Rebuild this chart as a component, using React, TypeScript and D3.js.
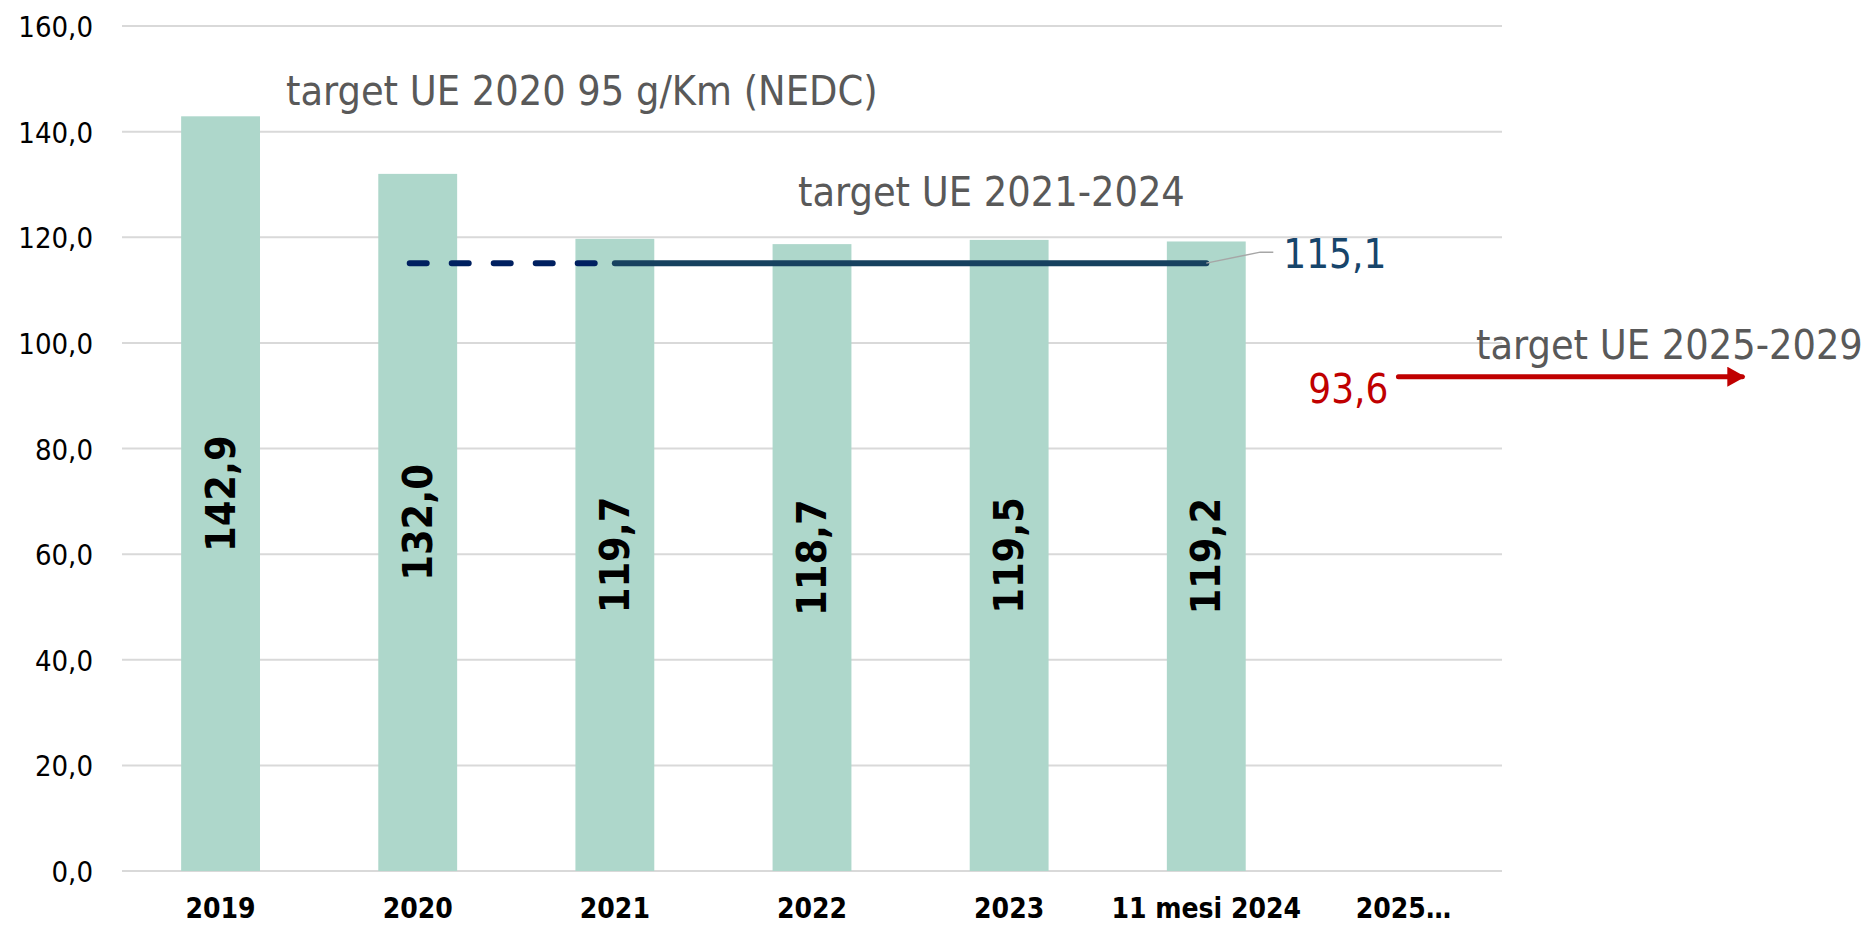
import React from 'react';
import * as d3 from 'd3';

// chart values
const categories = ['2019', '2020', '2021', '2022', '2023', '11 mesi 2024', '2025…'];
const values: (number | null)[] = [142.9, 132.0, 119.7, 118.7, 119.5, 119.2, null];
const yTicks = [0, 20, 40, 60, 80, 100, 120, 140, 160];
const target2124 = 115.1;
const target2529 = 93.6;
const labelTarget2020 = 'target UE 2020 95 g/Km (NEDC)';
const labelTarget2124 = 'target UE 2021-2024';
const labelTarget2529 = 'target UE 2025-2029';

const W = 1870;
const H = 925;
const FONT = "'DejaVu Sans Condensed', 'DejaVu Sans', sans-serif";

const locale = d3.formatLocale({ decimal: ',', thousands: '.', grouping: [3], currency: ['€', ''] });
const fmt = locale.format('.1f');

export default function App() {
  const x = d3.scaleBand<string>()
    .domain(categories)
    .range([122, 1502])
    .paddingInner(0.6)
    .paddingOuter(0.3);
  const y = d3.scaleLinear().domain([0, 160]).range([871, 26]);
  const bw = x.bandwidth();
  const cx = (c: string) => (x(c) as number) + bw / 2;

  // target lines
  const yT1 = y(target2124);
  const dashedStart = cx(categories[1]) - 8;
  const solidStart = cx(categories[2]);
  const solidEnd = cx(categories[5]);
  const yT2 = y(target2529);
  const arrowStart = cx(categories[6]) - 5;
  const arrowEnd = x.range()[1] + x.step() * 1.29;

  const line = d3.line<[number, number]>();

  return (
    <div style={{ position: 'absolute', left: 0, top: 0 }}>
      <svg width={W} height={H} style={{ display: 'block', fontFamily: FONT, fontStretch: 'condensed' }}>
        <defs>
          <marker id="arrowRed" markerWidth="4" markerHeight="4" refX="3" refY="2" orient="auto" markerUnits="strokeWidth">
            <path d="M0,0 L3.6,2 L0,4 Z" fill="#C00000" />
          </marker>
        </defs>

        {/* grid */}
        {yTicks.map(t => (
          <g key={t}>
            <line x1={x.range()[0]} x2={x.range()[1]} y1={y(t)} y2={y(t)} stroke="#D9D9D9" strokeWidth={2} />
            <text x={93} y={y(t) + 11} textAnchor="end" fontSize={29} fill="#000">{fmt(t)}</text>
          </g>
        ))}

        {/* bars */}
        {categories.map((c, i) => values[i] == null ? null : (
          <rect key={c} x={x(c)} y={y(values[i] as number)} width={bw}
            height={y(0) - y(values[i] as number)} fill="#AED7CB" />
        ))}

        {/* bar labels */}
        {categories.map((c, i) => {
          if (values[i] == null) return null;
          const ly = (y(values[i] as number) + y(0)) / 2;
          return (
            <text key={c} transform={`translate(${cx(c)},${ly}) rotate(-90)`} textAnchor="middle"
              dominantBaseline="central" fontSize={41} fontWeight="bold" fill="#000">
              {fmt(values[i] as number)}
            </text>
          );
        })}

        {/* x labels */}
        {categories.map(c => (
          <text key={c} x={cx(c)} y={918} textAnchor="middle" fontSize={28} fontWeight="bold" fill="#000">{c}</text>
        ))}

        {/* target 2021-2024 */}
        <path d={line([[dashedStart, yT1], [solidStart, yT1]]) as string} stroke="#002060" strokeWidth={6}
          strokeDasharray="17,25" strokeLinecap="round" fill="none" />
        <path d={line([[solidStart, yT1], [solidEnd, yT1]]) as string} stroke="#17415F" strokeWidth={6}
          strokeLinecap="round" fill="none" />
        <path d={line([[solidEnd, yT1], [solidEnd + 54, yT1 - 11], [solidEnd + 67, yT1 - 11]]) as string}
          stroke="#A6A6A6" strokeWidth={1.5} fill="none" />
        <text x={solidEnd + 77} y={yT1 + 5} fontSize={40} fill="#17456B">{fmt(target2124)}</text>

        {/* target 2025-2029 */}
        <path d={line([[arrowStart, yT2], [arrowEnd - 14, yT2]]) as string} stroke="#C00000" strokeWidth={5}
          strokeLinecap="round" fill="none" markerEnd="url(#arrowRed)" />
        <text x={arrowStart - 10} y={yT2 + 26} textAnchor="end" fontSize={40} fill="#C00000">{fmt(target2529)}</text>

        {/* annotations */}
        <text x={(x(categories[0]) as number) + bw + 26} y={y(145)} fontSize={41} fill="#595959">{labelTarget2020}</text>
        <text x={cx(categories[3]) - 14} y={y(126)} fontSize={41} fill="#595959">{labelTarget2124}</text>
        <text x={x.range()[1] - 26} y={y(97)} fontSize={41} fill="#595959">{labelTarget2529}</text>
      </svg>
    </div>
  );
}
